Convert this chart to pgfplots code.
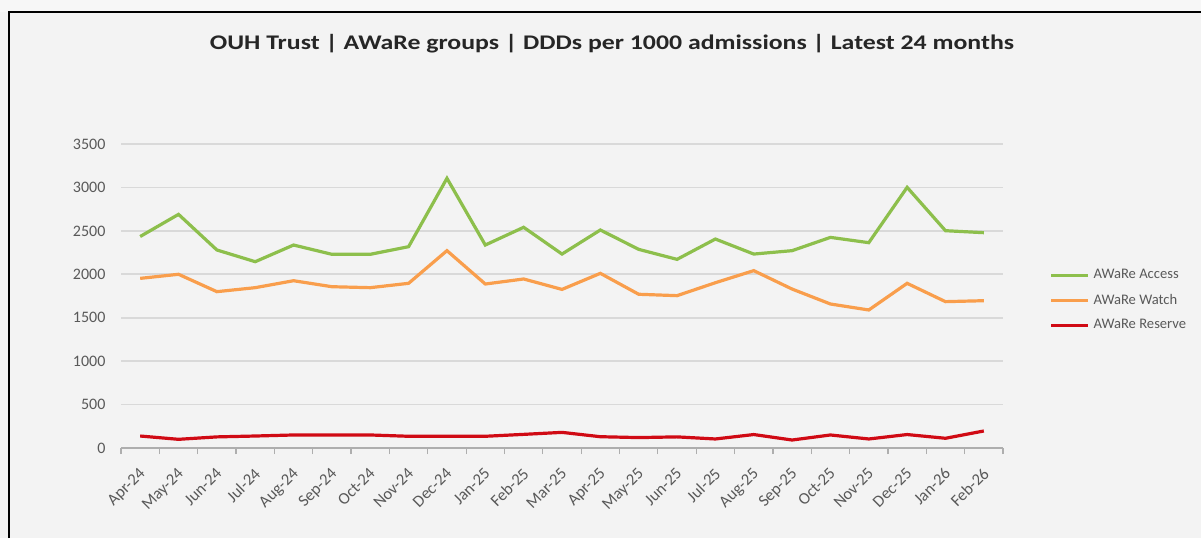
\documentclass[border=0pt]{standalone}
\usepackage{pgfplots}
\pgfplotsset{compat=1.18}
\usepackage{pgfplotstable}
\usepackage{fontspec}
\setmainfont{Carlito}
\definecolor{cAccess}{HTML}{8DBF4C}
\definecolor{cWatch}{HTML}{F99E4C}
\definecolor{cReserve}{HTML}{D00A14}
\definecolor{bgcol}{HTML}{F3F3F3}
\definecolor{lblcol}{HTML}{595959}
\definecolor{gridcol}{HTML}{D9D9D9}
\pgfplotstableread{
idx access watch reserve
0  2435 1953 138
1  2690 2000 100
2  2280 1800 128
3  2145 1846 138
4  2337 1926 150
5  2230 1857 150
6  2230 1846 150
7  2318 1896 135
8  3105 2272 135
9  2337 1888 135
10 2541 1946 157
11 2233 1826 180
12 2510 2011 130
13 2287 1770 120
14 2172 1754 128
15 2406 1903 104
16 2233 2042 155
17 2272 1830 92
18 2425 1658 150
19 2364 1589 104
20 3001 1896 155
21 2502 1685 112
22 2479 1696 196
}\datatable
\begin{document}
\begin{tikzpicture}[x=1pt,y=1pt]
\fill[bgcol] (0,0) rectangle (600.5,269);
\fill[white!97!black] (0,263) rectangle (600.5,269);
\draw[black, line width=1.1pt] (4.5,0) -- (4.5,263) -- (600.5,263);
\node[font=\fontsize{10}{12}\selectfont\bfseries, text=black!85] at (306,247) {\scalebox{1.29}[1.04]{OUH Trust | AWaRe groups | DDDs per 1000 admissions | Latest 24 months}};
\begin{axis}[
  at={(60.5pt,45pt)}, anchor=south west,
  scale only axis, width=441pt, height=152pt,
  xmin=-0.5, xmax=22.5, ymin=0, ymax=3500,
  ytick={0,500,...,3500},
  xtick={0,...,22},
  xticklabels={Apr-24,May-24,Jun-24,Jul-24,Aug-24,Sep-24,Oct-24,Nov-24,Dec-24,Jan-25,Feb-25,Mar-25,Apr-25,May-25,Jun-25,Jul-25,Aug-25,Sep-25,Oct-25,Nov-25,Dec-25,Jan-26,Feb-26},
  minor xtick={-0.5,0.5,...,22.5},
  major x tick style={draw=none},
  minor x tick style={gridcol!80!black, line width=0.6pt},
  minor tick length=3pt,
  tick align=outside,
  major y tick style={draw=none},
  axis x line*=bottom, axis y line*=left,
  x axis line style={gridcol!80!black, line width=0.6pt, -},
  y axis line style={draw=none},
  ymajorgrids, grid style={gridcol, line width=0.8pt},
  /pgf/number format/assume math mode=true,
  yticklabel style={font=\fontsize{8}{9}\selectfont, text=lblcol, /pgf/number format/1000 sep={}},
  scaled y ticks=false,
  xticklabel style={font=\fontsize{8.3}{9}\selectfont, text=lblcol, yshift=-3.5pt, xshift=-1pt, rotate=45, anchor=north east, inner sep=1pt},
  legend style={at={(1.05,0.485)}, anchor=west, draw=none, fill=none, font=\fontsize{7.3}{9}\selectfont, text=lblcol, row sep=2pt, inner sep=1pt},
  legend cell align=left,
  legend image code/.code={\draw[#1, line width=1.6pt] (0cm,0cm) -- (0.65cm,0cm);},
  clip=false,
]
\addplot[cAccess, line width=1.6pt] table[x=idx, y=access] {\datatable};
\addlegendentry{AWaRe Access}
\addplot[cWatch, line width=1.6pt] table[x=idx, y=watch] {\datatable};
\addlegendentry{AWaRe Watch}
\addplot[cReserve, line width=1.6pt] table[x=idx, y=reserve] {\datatable};
\addlegendentry{AWaRe Reserve}
\end{axis}
\pgfresetboundingbox
\useasboundingbox (0,0) rectangle (600.5,269);
\end{tikzpicture}
\end{document}
